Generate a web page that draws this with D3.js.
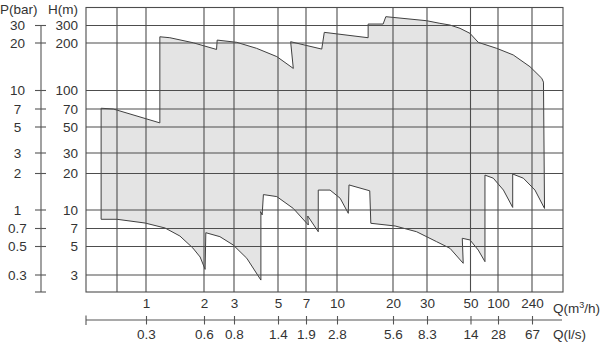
<!DOCTYPE html>
<html>
<head>
<meta charset="utf-8">
<script src="https://cdn.jsdelivr.net/npm/d3@7/dist/d3.min.js"></script>
<style>
  body { margin: 0; background: #fff; }
  svg { display: block; }
  text { font-family: "Liberation Sans", Arial, sans-serif; fill: #333; }
</style>
</head>
<body>
<svg id="chart" width="600" height="342"></svg>
<script>
// flow axis: m3/h ticks and the matching l/s labels
const qTicks = [1, 2, 3, 5, 7, 10, 20, 30, 50, 100, 240];
const qLsLabels = ["0.3", "0.6", "0.8", "1.4", "1.9", "2.8", "5.6", "8.3", "14", "28", "67"];
const qGrid = [0.7, 1, 2, 3, 5, 7, 10, 20, 30, 50, 100, 240];

// head axis (m) and pressure labels (bar)
const hTicks = [300, 200, 100, 70, 50, 30, 20, 10, 7, 5, 3];
const pLabels = ["30", "20", "10", "7", "5", "3", "2", "1", "0.7", "0.5", "0.3"];

// performance range outline, [Q m3/h, H m]
const upperEdge = [
  [0.58, 71], [0.67, 70], [1.18, 54], [1.18, 231], [1.33, 226], [1.76, 201],
  [2.37, 182], [2.39, 214], [3.10, 203], [3.90, 185], [4.93, 164], [6.01, 138],
  [5.82, 206], [8.39, 183], [8.64, 256], [14.7, 226], [14.7, 310], [17.7, 310],
  [18.3, 366], [29.9, 334], [34.9, 315], [39.3, 303], [44.2, 281], [49.7, 250],
  [60.8, 203], [96.8, 185], [148, 168], [228, 141.5], [282, 119.5], [290, 113]
];
const lowerEdge = [
  [0.58, 8.36], [0.70, 8.36], [0.988, 7.78], [1.255, 7.07], [1.50, 6.08],
  [1.75, 4.87], [1.91, 4.14], [2.03, 3.32], [2.05, 6.47], [2.48, 6.01],
  [2.97, 5.14], [3.48, 4.05], [4.10, 2.72], [4.10, 9.3], [4.08, 9.7],
  [4.16, 9.1], [4.22, 13.4], [4.93, 12.9], [6.01, 10.3], [7.19, 7.49],
  [7.14, 8.91], [8.06, 6.59], [8.06, 14.6], [9.23, 14.6], [10.4, 12.5],
  [11.5, 9.38], [11.6, 16.1], [15.0, 14.4], [15.2, 7.74], [20.5, 7.35],
  [26.5, 6.59], [33.6, 5.47], [39.3, 4.84], [45.9, 3.70], [45.4, 5.83],
  [49.7, 5.65], [60.8, 4.69], [72, 3.81], [72, 19.4], [88.8, 18.3],
  [115, 14.6], [146, 10.5], [146, 19.8], [192, 18.3], [252, 14.6], [295, 10.3]
];

const svg = d3.select("#chart");
const gridColor = "#4d4d4d";
const fontSize = "13.5px";

// the printed chart is log spaced but not evenly, so the scales are piecewise
const x = d3.scaleLog()
  .domain([0.485, 0.7, 1, 2, 3, 5, 7, 10, 20, 30, 50, 100, 240, 400])
  .range([86, 117, 146, 204, 234, 278, 306, 337, 393, 427, 470.5, 498, 532, 563]);
const y = d3.scaleLog()
  .domain([2.16, 3, 5, 7, 10, 20, 30, 50, 70, 100, 200, 300, 450])
  .range([292, 275, 246.5, 228.5, 210, 173.5, 153, 127, 109, 90.5, 43, 25.5, 7.5]);

const [x0, x1] = [x(0.485), x(400)];
const [yTop, yBot] = [y(450), y(2.16)];

// shaded range
const outline = upperEdge.concat(lowerEdge.slice().reverse());
svg.append("path")
  .datum(outline)
  .attr("fill", "#e4e4e4")
  .attr("stroke", "#404040")
  .attr("stroke-width", 1)
  .attr("stroke-linejoin", "round")
  .attr("d", d3.line().x(d => x(d[0])).y(d => y(d[1])).curve(d3.curveLinearClosed));

// grid
const grid = svg.append("g").attr("stroke", gridColor).attr("stroke-width", 1.1);
qGrid.forEach(q => {
  grid.append("line").attr("x1", x(q)).attr("x2", x(q)).attr("y1", yTop).attr("y2", yBot);
});
hTicks.forEach(h => {
  grid.append("line").attr("x1", x0).attr("x2", x1).attr("y1", y(h)).attr("y2", y(h));
});
grid.append("rect")
  .attr("x", x0).attr("y", yTop)
  .attr("width", x1 - x0).attr("height", yBot - yTop)
  .attr("fill", "none");

// H(m) labels on the plot's left edge
const hAxis = svg.append("g")
  .attr("transform", `translate(${x0},0)`)
  .call(d3.axisLeft(y).tickValues(hTicks).tickSize(0).tickPadding(8).tickFormat(d3.format("d")));
hAxis.select(".domain").remove();
hAxis.selectAll("text").attr("font-size", fontSize).style("font-family", null);

// P(bar) scale, separate line at the far left
const pX = 41;
const pAxis = svg.append("g").attr("stroke", "#555").attr("stroke-width", 1.1);
pAxis.append("line").attr("x1", pX).attr("x2", pX).attr("y1", y(300)).attr("y2", yBot);
hTicks.concat([2.16]).forEach(h => {
  pAxis.append("line").attr("x1", pX - 6).attr("x2", pX + 5).attr("y1", y(h)).attr("y2", y(h));
});
svg.append("g").selectAll("text")
  .data(hTicks)
  .join("text")
  .attr("x", 17.5)
  .attr("y", d => y(d))
  .attr("dy", "0.36em")
  .attr("text-anchor", "middle")
  .attr("font-size", fontSize)
  .text((d, i) => pLabels[i]);

svg.append("text").attr("x", 0).attr("y", 14).attr("font-size", fontSize).text("P(bar)");
svg.append("text").attr("x", 48).attr("y", 14).attr("font-size", fontSize).text("H(m)");

// flow scale below the plot
const axisY = 320;
const qTop = svg.append("g")
  .attr("transform", `translate(0,${axisY})`)
  .call(d3.axisTop(x).tickValues(qTicks).tickSize(4).tickPadding(8).tickFormat(d3.format("d")));
const qBottom = svg.append("g")
  .attr("transform", `translate(0,${axisY})`)
  .call(d3.axisBottom(x).tickValues(qTicks).tickSize(4.5).tickPadding(5).tickFormat((d, i) => qLsLabels[i]));
[qTop, qBottom].forEach(a => {
  a.select(".domain").remove();
  a.selectAll("line").attr("stroke", "#555").attr("stroke-width", 1.1);
  a.selectAll("text").attr("font-size", fontSize).style("font-family", null);
});
svg.append("line")
  .attr("x1", x0).attr("x2", 562).attr("y1", axisY).attr("y2", axisY)
  .attr("stroke", "#555").attr("stroke-width", 1.1);
svg.append("line")
  .attr("x1", x0).attr("x2", x0).attr("y1", axisY - 4.5).attr("y2", axisY + 5)
  .attr("stroke", "#555").attr("stroke-width", 1.1);

svg.append("text").attr("x", 553).attr("y", 312.5).attr("font-size", fontSize)
  .html('Q(m<tspan dy="-5" font-size="9px">3</tspan><tspan dy="5">/h)</tspan>');
svg.append("text").attr("x", 553).attr("y", 338.5).attr("font-size", fontSize).text("Q(l/s)");
</script>
</body>
</html>
